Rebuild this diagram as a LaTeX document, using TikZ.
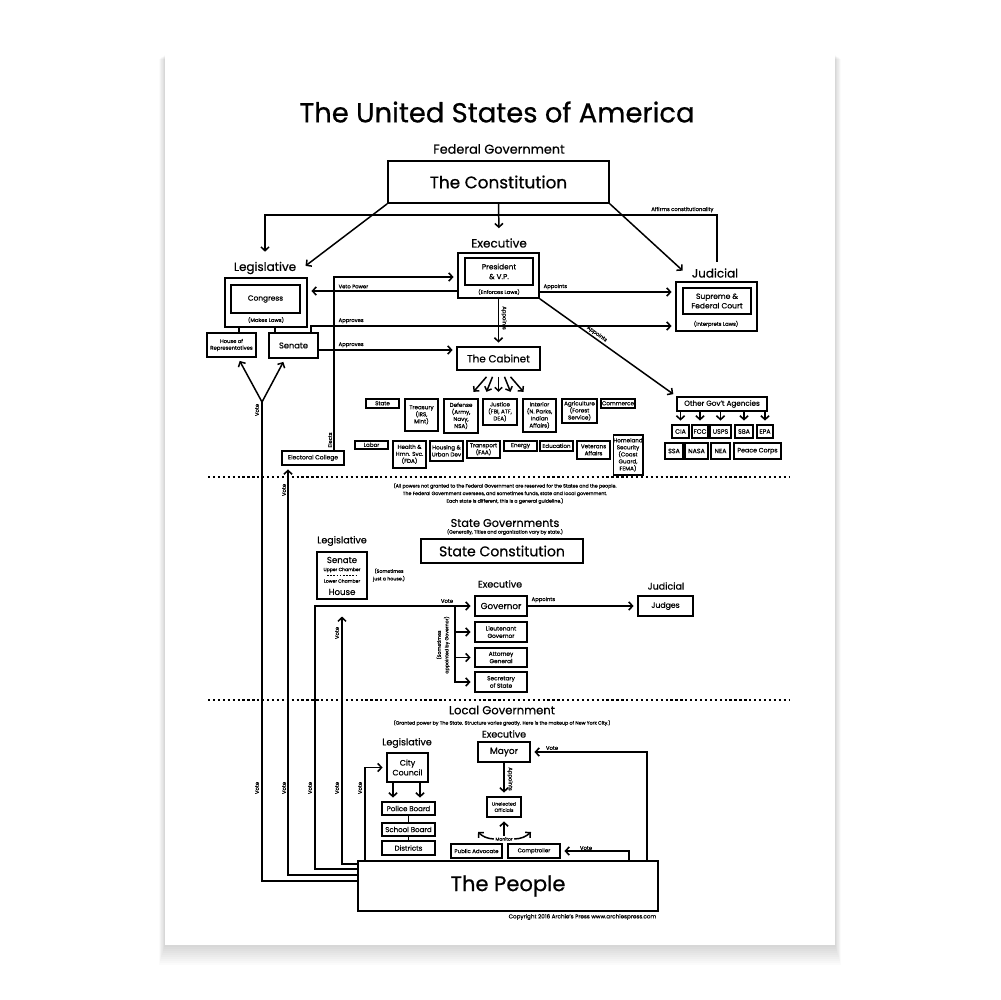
\documentclass[tikz,border=0pt]{standalone}
\usepackage{fontspec}
\setmainfont{Poppins}[FakeBold=0.6]
\usetikzlibrary{arrows.meta,calc}

\newcommand{\unitpx}{0.02cm}
\newcommand{\fsz}[2]{\fontsize{#1}{#2}\selectfont}

\begin{document}
\begin{tikzpicture}[
    x=0.02cm, y=-0.02cm,
    line width=0.85pt,
    box/.style={draw, line width=0.95pt, align=center, inner sep=0pt},
    dept/.style={box, anchor=north, font=\fsz{3.2}{4}},
    agency/.style={box, minimum height=13*\unitpx, font=\fsz{3.6}{4}},
    arr/.style={-{Straight Barb[length=2.2pt,width=4.6pt]}, shorten >=2pt},
    arrN/.style={-{Straight Barb[length=2pt,width=4.2pt]}},
    ttl/.style={font=\fsz{15.6}{18}},
    branch/.style={font=\fsz{6.8}{8}},
    sbranch/.style={font=\fsz{5.4}{6.5}},
    tag/.style={font=\fsz{3}{3.6}, inner sep=0.5pt},
    note/.style={font=\fsz{2.7}{4.3}, align=center, inner sep=0pt},
    divider/.style={dash pattern=on 1.3pt off 1.5pt, line width=0.9pt}
  ]
  \useasboundingbox (0,0) rectangle (1000,1000);
  \fill[white] (0,0) rectangle (1000,1000);
  % poster sheet and its shadow
  \foreach \k in {1,...,10}
    \fill[black, opacity=0.015] (165-\k*0.6,55+\k*0.4) rectangle (835+\k*0.6,945+\k*2);
  \fill[white] (165,55) rectangle (835,945);

  % ---------- federal ----------
  \node[ttl] (title) at (497,112) {The United States of America};
  \node[font=\fsz{7.3}{8}] (fedhead) at (499,149) {Federal Government};
  \node[box, minimum width=221*\unitpx, minimum height=42*\unitpx, font=\fsz{9.6}{11}] (const) at (498.5,182) {The Constitution};

  \node[branch] (exlab) at (499,243) {Executive};
  \node[box, minimum width=81*\unitpx, minimum height=45*\unitpx] (pres) at (498.5,275.5) {};
  \node[box, minimum width=68*\unitpx, minimum height=27*\unitpx, font=\fsz{4.2}{5.6}] (presin) at (499,271.5) {President\\\& V.P.};
  \node[tag] (enforce) at (499,292) {(Enforces Laws)};

  \node[branch] (leglab) at (265,268) {Legislative};
  \node[box, minimum width=82*\unitpx, minimum height=49*\unitpx] (legout) at (266,302.5) {};
  \node[box, minimum width=69*\unitpx, minimum height=28*\unitpx, font=\fsz{4.2}{5}] (congr) at (265.5,299) {Congress};
  \node[tag] (makes) at (266,320) {(Makes Laws)};
  \node[box, minimum width=49*\unitpx, minimum height=24*\unitpx, font=\fsz{3}{3.8}] (house) at (231.5,345) {House of\\Representatives};
  \node[box, minimum width=49*\unitpx, minimum height=25*\unitpx, font=\fsz{4.7}{5}] (senate) at (293.5,345.5) {Senate};

  \node[branch] (judlab) at (715,273) {Judicial};
  \node[box, minimum width=81*\unitpx, minimum height=49*\unitpx] (judout) at (716.5,306.5) {};
  \node[box, minimum width=68*\unitpx, minimum height=26*\unitpx, font=\fsz{4.3}{5.4}] (court) at (717,301) {Supreme \&\\Federal Court};
  \node[tag] (interp) at (716,324) {(Interprets Laws)};

  \node[box, minimum width=83*\unitpx, minimum height=23*\unitpx, font=\fsz{5.9}{7}] (cab) at (498.5,358.5) {The Cabinet};

  % cabinet departments
  \node[dept, minimum width=33*\unitpx, minimum height=9*\unitpx] (dstate) at (382.5,398) {State};
  \node[dept, minimum width=33*\unitpx, minimum height=32*\unitpx] (dtreas) at (421.5,398) {Treasury\\(IRS,\\Mint)};
  \node[dept, minimum width=34*\unitpx, minimum height=34*\unitpx] (ddef) at (461,398) {Defense\\(Army,\\Navy,\\NSA)};
  \node[dept, minimum width=34*\unitpx, minimum height=26*\unitpx] (djust) at (500,398) {Justice\\(FBI, ATF,\\DEA)};
  \node[dept, minimum width=33*\unitpx, minimum height=33*\unitpx] (dint) at (539.5,398) {Interior\\(N. Parks,\\Indian\\Affairs)};
  \node[dept, minimum width=35*\unitpx, minimum height=24*\unitpx] (dagri) at (579.5,398) {Agriculture\\(Forest\\Service)};
  \node[dept, minimum width=34*\unitpx, minimum height=9*\unitpx] (dcomm) at (618,398) {Commerce};
  \node[dept, minimum width=33*\unitpx, minimum height=8*\unitpx] (dlabor) at (371.5,440) {Labor};
  \node[dept, minimum width=33*\unitpx, minimum height=27*\unitpx] (dhealth) at (409.5,440) {Health \&\\Hmn. Svc.\\(FDA)};
  \node[dept, minimum width=33*\unitpx, minimum height=20*\unitpx] (dhousing) at (446.5,440) {Housing \&\\Urban Dev};
  \node[dept, minimum width=33*\unitpx, minimum height=17*\unitpx] (dtrans) at (483.5,440) {Transport\\(FAA)};
  \node[dept, minimum width=33*\unitpx, minimum height=10*\unitpx] (denergy) at (520.5,440) {Energy};
  \node[dept, minimum width=33*\unitpx, minimum height=10*\unitpx] (deduc) at (556.5,440) {Education};
  \node[dept, minimum width=33*\unitpx, minimum height=18*\unitpx] (dvet) at (593.5,440) {Veterans\\Affairs};
  \node[dept, minimum width=26*\unitpx, minimum height=40*\unitpx] (dhome) at (628,434) {Homeland\\Security\\(Coast\\Guard,\\FEMA)};

  % other agencies
  \node[box, minimum width=90*\unitpx, minimum height=14*\unitpx, font=\fsz{4.1}{5}] (agy) at (722,404) {Other Gov't Agencies};
  \foreach \n/\x/\bw/\lab in {cia/680.5/17/CIA, fcc/700/16/FCC, usps/720.5/21/USPS, sba/744/18/SBA, epa/765/16/EPA}{
    \node[agency, minimum width=\bw*\unitpx] (\n) at (\x,431.5) {\lab};
    \draw[arr] (agy.south -| \n.north) -- (\n.north);
  }
  \foreach \n/\x/\bw/\lab in {ssa/674/18/SSA, nasa/696.5/23/NASA, nea/720.5/19/NEA, peace/757.5/47/Peace Corps}
    \node[agency, minimum width=\bw*\unitpx, minimum height=16*\unitpx] (\n) at (\x,451) {\lab};

  \node[box, minimum width=62*\unitpx, minimum height=14*\unitpx, font=\fsz{3.4}{4}] (ec) at (313,458) {Electoral College};

  % federal connectors
  \coordinate (affirm) at (717,215);
  \coordinate (veto) at (0,291);
  \coordinate (elects) at (334,277);
  \coordinate (appt) at (0,292);
  \coordinate (aprup) at (311,326);
  \coordinate (aprlow) at (0,350);
  \draw[arr] (const.south) -- (exlab.north);
  \draw[arr] (const.south west) -- (leglab.east);
  \draw[arr] (const.south east) -- (judlab.west);
  \draw[arr] (judlab.north -| affirm) |- (leglab.north |- affirm) -- (leglab.north);
  \node[tag, anchor=south east] (afflab) at (715,214) {Affirms constitutionality};
  \draw[arr] (pres.west |- veto) -- (legout.east |- veto);
  \node[tag, anchor=south west] (vetolab) at (337,290) {Veto Power};
  \draw[arr] (ec.north -| elects) |- (pres.west |- elects);
  \node[tag, rotate=90] (electlab) at (330,440) {Elects};
  \draw[arr] (pres.east |- appt) -- (judout.west |- appt);
  \node[tag, anchor=south west] (applab) at (542,291) {Appoints};
  \draw[arr] (senate.north -| aprup) |- (judout.west |- aprup);
  \node[tag, anchor=south west] (apr1lab) at (337,325) {Approves};
  \draw[arr] (senate.east |- aprlow) -- (cab.west |- aprlow);
  \node[tag, anchor=south west] (apr2lab) at (337,349) {Approves};
  \draw[arr] (pres.south) -- (cab.north);
  \node[tag, rotate=-90] (appvlab) at (504,318) {Appoints};
  \draw[arr] (pres.south east) -- (agy.north west);
  \node[tag, rotate=-36] (appdlab) at (597,334) {Appoints};
  \foreach \s/\e in {-12/-25, -6/-12, 0/0, 6/12, 12/25}
    \draw[arrN] ($(cab.south)+(\s,6)$) -- ($(cab.south)+(\e,21)$);
  \draw ($(house.north)+(7.5,0)$) -- ($(house.north)+(7.5,-6)$);
  \draw ($(senate.north)+(-18.5,0)$) -- ($(senate.north)+(-18.5,-6)$);

  \draw[divider] (208,477) -- (790,477);
  \draw[divider] (208,700) -- (790,700);

  % ---------- state ----------
  \node[note] (reserve) at (505,493.5) {(All powers not granted to the Federal Government are reserved for the States and the people.\\The Federal Government oversees, and sometimes funds, state and local government.\\Each state is different, this is a general guideline.)};
  \node[font=\fsz{6.4}{7}] (statehead) at (505,523) {State Governments};
  \node[note] (stategen) at (505,532) {(Generally, Titles and organization vary by state.)};
  \node[box, minimum width=162*\unitpx, minimum height=24*\unitpx, font=\fsz{8}{9}] (sconst) at (502,551) {State Constitution};

  \node[sbranch] (slegl) at (342,541) {Legislative};
  \node[box, minimum width=50*\unitpx, minimum height=47*\unitpx] (sleg) at (342,575.5) {};
  \node[font=\fsz{4.9}{5}] (ssen) at (342,560) {Senate};
  \node[font=\fsz{2.6}{3}] (upper) at (342,570) {Upper Chamber};
  \draw[dash pattern=on 0.9pt off 0.9pt, line width=0.5pt] ($(sleg.west)+(11,0)$) -- ($(sleg.east)+(-11,0)$);
  \node[font=\fsz{2.6}{3}] (lower) at (342,581) {Lower Chamber};
  \node[font=\fsz{4.9}{5}] (shouse) at (342,592) {House};
  \node[note] (justhouse) at (389,575) {(Sometimes\\just a house.)};

  \node[sbranch] (sexlab) at (500,584) {Executive};
  \node[box, minimum width=52*\unitpx, minimum height=20*\unitpx, font=\fsz{5}{6}] (gov) at (501,606) {Governor};
  \node[box, minimum width=52*\unitpx, minimum height=20*\unitpx, font=\fsz{3.3}{4.2}] (ltg) at (501,632) {Lieutenant\\Governor};
  \node[box, minimum width=52*\unitpx, minimum height=19*\unitpx, font=\fsz{3.3}{4.2}] (ag) at (501,657.5) {Attorney\\General};
  \node[box, minimum width=52*\unitpx, minimum height=20*\unitpx, font=\fsz{3.3}{4.2}] (sos) at (501,682) {Secretary\\of State};
  \node[note, rotate=90] (sometimes) at (443,645) {(Sometimes\\appointed by Governor)};
  \node[sbranch] (sjudlab) at (666,586) {Judicial};
  \node[box, minimum width=55*\unitpx, minimum height=20*\unitpx, font=\fsz{4.4}{5}] (judges) at (665.5,606) {Judges};

  \coordinate (govfork) at (455,606);
  \coordinate (govvote) at (315,606);
  \draw[arr] (gov.east) -- (judges.west);
  \node[tag, anchor=south west] (sapplab) at (530,604) {Appoints};
  \foreach \n in {ltg,ag,sos}
    \draw[arr] (govfork) |- (\n.west);
  \node[tag] (svotelab) at (447,601) {Vote};

  % ---------- local ----------
  \node[font=\fsz{6.6}{7}] (localhead) at (502,710) {Local Government};
  \node[note] (localgen) at (502,723) {(Granted power by The State. Structure varies greatly. Here is the makeup of New York City.)};
  \node[sbranch] (lexlab) at (504,734) {Executive};
  \node[box, minimum width=52*\unitpx, minimum height=20*\unitpx, font=\fsz{5.1}{6}] (mayor) at (504,752) {Mayor};
  \node[sbranch] (llegl) at (407,743) {Legislative};
  \node[box, minimum width=41*\unitpx, minimum height=29*\unitpx, font=\fsz{4.5}{5.6}] (council) at (407.5,767.5) {City\\Council};
  \node[box, minimum width=53*\unitpx, minimum height=13*\unitpx, font=\fsz{4}{5}] (police) at (408.5,808.5) {Police Board};
  \node[box, minimum width=53*\unitpx, minimum height=13*\unitpx, font=\fsz{4}{5}] (school) at (408.5,829.5) {School Board};
  \node[box, minimum width=53*\unitpx, minimum height=14*\unitpx, font=\fsz{4}{5}] (districts) at (408.5,848) {Districts};
  \node[box, minimum width=34*\unitpx, minimum height=20*\unitpx, font=\fsz{2.7}{3.6}] (unel) at (504,807) {Unelected\\Officials};
  \node[font=\fsz{2.6}{3}, inner sep=0.5pt] (monitor) at (504,839) {Monitor};
  \node[box, minimum width=51*\unitpx, minimum height=14*\unitpx, font=\fsz{3.1}{4}] (padv) at (476.5,851) {Public Advocate};
  \node[box, minimum width=52*\unitpx, minimum height=14*\unitpx, font=\fsz{3.1}{4}] (comp) at (534,851) {Comptroller};
  \node[box, minimum width=300*\unitpx, minimum height=50*\unitpx, font=\fsz{12}{14}] (people) at (508,886) {The People};
  \node[font=\fsz{3.2}{4}, anchor=east, inner sep=0pt] (copy) at (657,917) {Copyright 2016 Archie's Press www.archiespress.com};

  \draw[arr] ($(council.south)+(-14.5,0)$) -- ($(police.north)+(-15.5,0)$);
  \draw[arr] ($(council.south)+(12.5,0)$) -- ($(police.north)+(11.5,0)$);
  \draw (police.south) -- (school.north);
  \draw (school.south) -- (districts.north);
  \draw[arr] (mayor.south) -- (unel.north);
  \node[tag, rotate=-90] (lapplab) at (510,779) {Appoints};
  \draw[arr] (monitor.north) -- (unel.south);
  \coordinate (monl) at (478,832);
  \coordinate (monr) at (531,832);
  \draw[arrN] (monitor.west) to[bend left=20] (monl);
  \draw[arrN] (monitor.east) to[bend right=20] (monr);

  % ---------- votes ----------
  \coordinate (fedfork) at (262,402);
  \coordinate (slegvote) at (342,613);
  \coordinate (ccvote) at (365,768);
  \coordinate (mayvote) at (647,752);
  \coordinate (compvote) at (629,852);
  \draw ($(people.north west)+(0,21)$) -| (fedfork);
  \draw[arr] (fedfork) -- ($(house.south)+(6.5,0)$);
  \draw[arr] (fedfork) -- ($(senate.south)+(-8.5,0)$);
  \draw[arr] ($(people.north west)+(0,15)$) -| ($(ec.south)+(-25,0)$);
  \draw[arr] ($(people.north west)+(0,9)$) -| (govvote) -- (gov.west);
  \draw[arr] ($(people.north west)+(0,4)$) -| (slegvote);
  \draw[arr] (people.north -| ccvote) |- (council.west);
  \draw[arr] (people.north -| mayvote) |- (mayor.east);
  \draw[arr] (people.north -| compvote) |- (comp.east);
  \foreach \x/\y [count=\i] in {257/410, 284/490, 337/633, 257/788, 284/788, 310/788, 337/788, 360/788}
    \node[tag, rotate=90] (vote\i) at (\x,\y) {Vote};
  \node[tag] (mayvotelab) at (552,748) {Vote};
  \node[tag] (compvotelab) at (586,848) {Vote};
\end{tikzpicture}
\end{document}
